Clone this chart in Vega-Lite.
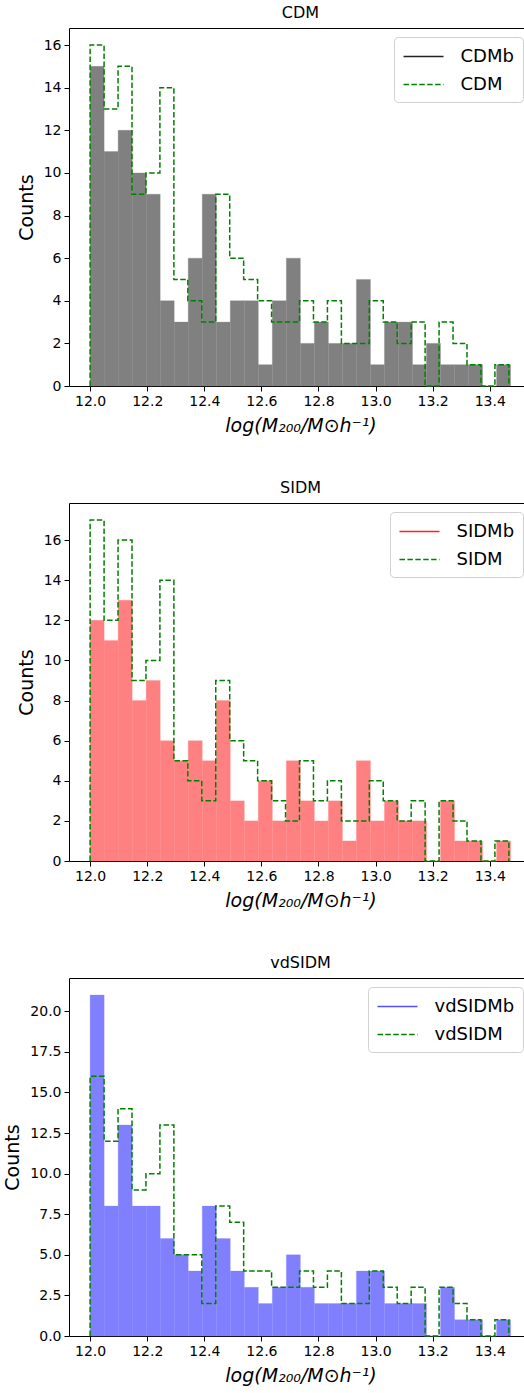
{
  "$schema": "https://vega.github.io/schema/vega-lite/v6.json",
  "padding": {"left": 3, "top": 4, "right": 0, "bottom": 0},
  "spacing": 43,
  "config": {
    "font": "DejaVu Sans",
    "view": {"stroke": "black", "strokeWidth": 1},
    "axis": {"grid": false, "domain": false, "tickColor": "black", "tickSize": 5, "tickWidth": 1, "labelColor": "black", "labelFontSize": 14, "labelFont": "DejaVu Sans", "titleFont": "DejaVu Sans", "titleFontSize": 19, "titleFontWeight": "normal", "titleColor": "black", "labelPadding": 3},
    "axisY": {"titlePadding": 7},
    "axisX": {"titlePadding": 8, "titleFontStyle": "italic"},
    "title": {"fontSize": 16, "fontWeight": "normal", "color": "black", "font": "DejaVu Sans", "frame": "group", "anchor": "middle", "offset": 7},
    "legend": {"orient": "top-right", "offset": 9, "padding": 8.5, "strokeColor": "#d0d0d0", "fillColor": "white", "cornerRadius": 4, "labelFontSize": 18, "labelColor": "black", "labelFont": "DejaVu Sans", "symbolType": "M-2,0H2", "symbolSize": 400, "symbolStrokeWidth": 1.5, "symbolOffset": 10, "labelOffset": 26, "rowPadding": 8}
  },
  "resolve": {"scale": {"color": "independent", "strokeDash": "independent"}, "legend": {"color": "independent", "strokeDash": "independent"}},
  "datasets": {
    "cdmb": [
      {"x":12.0,"x2":12.0491,"n":15},{"x":12.0491,"x2":12.0982,"n":11},{"x":12.0982,"x2":12.1473,"n":12},{"x":12.1473,"x2":12.1964,"n":10},{"x":12.1964,"x2":12.2455,"n":9},{"x":12.2455,"x2":12.2946,"n":4},{"x":12.2946,"x2":12.3437,"n":3},{"x":12.3437,"x2":12.3928,"n":6},{"x":12.3928,"x2":12.4419,"n":9},{"x":12.4419,"x2":12.491,"n":3},{"x":12.491,"x2":12.5401,"n":4},{"x":12.5401,"x2":12.5892,"n":4},{"x":12.5892,"x2":12.6383,"n":1},{"x":12.6383,"x2":12.6874,"n":4},{"x":12.6874,"x2":12.7365,"n":6},{"x":12.7365,"x2":12.7856,"n":2},{"x":12.7856,"x2":12.8347,"n":3},{"x":12.8347,"x2":12.8838,"n":2},{"x":12.8838,"x2":12.9329,"n":2},{"x":12.9329,"x2":12.982,"n":5},{"x":12.982,"x2":13.0311,"n":1},{"x":13.0311,"x2":13.0802,"n":3},{"x":13.0802,"x2":13.1293,"n":3},{"x":13.1293,"x2":13.1784,"n":1},{"x":13.1784,"x2":13.2275,"n":2},{"x":13.2275,"x2":13.2766,"n":1},{"x":13.2766,"x2":13.3257,"n":1},{"x":13.3257,"x2":13.3748,"n":1},{"x":13.3748,"x2":13.4239,"n":0},{"x":13.4239,"x2":13.473,"n":1}
    ],
    "cdm": [
      {"i":0,"x":12.0,"n":0,"s":"CDM"},{"i":1,"x":12.0,"n":16,"s":"CDM"},{"i":2,"x":12.0489,"n":13,"s":"CDM"},{"i":3,"x":12.0978,"n":15,"s":"CDM"},{"i":4,"x":12.1467,"n":9,"s":"CDM"},{"i":5,"x":12.1956,"n":10,"s":"CDM"},{"i":6,"x":12.2445,"n":14,"s":"CDM"},{"i":7,"x":12.2934,"n":5,"s":"CDM"},{"i":8,"x":12.3423,"n":4,"s":"CDM"},{"i":9,"x":12.3912,"n":3,"s":"CDM"},{"i":10,"x":12.4401,"n":9,"s":"CDM"},{"i":11,"x":12.489,"n":6,"s":"CDM"},{"i":12,"x":12.5379,"n":5,"s":"CDM"},{"i":13,"x":12.5868,"n":4,"s":"CDM"},{"i":14,"x":12.6357,"n":3,"s":"CDM"},{"i":15,"x":12.6846,"n":3,"s":"CDM"},{"i":16,"x":12.7335,"n":4,"s":"CDM"},{"i":17,"x":12.7824,"n":3,"s":"CDM"},{"i":18,"x":12.8313,"n":4,"s":"CDM"},{"i":19,"x":12.8802,"n":2,"s":"CDM"},{"i":20,"x":12.9291,"n":2,"s":"CDM"},{"i":21,"x":12.978,"n":4,"s":"CDM"},{"i":22,"x":13.0269,"n":3,"s":"CDM"},{"i":23,"x":13.0758,"n":2,"s":"CDM"},{"i":24,"x":13.1247,"n":3,"s":"CDM"},{"i":25,"x":13.1736,"n":0,"s":"CDM"},{"i":26,"x":13.2225,"n":3,"s":"CDM"},{"i":27,"x":13.2714,"n":2,"s":"CDM"},{"i":28,"x":13.3203,"n":1,"s":"CDM"},{"i":29,"x":13.3692,"n":0,"s":"CDM"},{"i":30,"x":13.4181,"n":1,"s":"CDM"},{"i":31,"x":13.467,"n":0,"s":"CDM"}
    ],
    "sidmb": [
      {"x":12.0,"x2":12.0491,"n":12},{"x":12.0491,"x2":12.0982,"n":11},{"x":12.0982,"x2":12.1473,"n":13},{"x":12.1473,"x2":12.1964,"n":8},{"x":12.1964,"x2":12.2455,"n":9},{"x":12.2455,"x2":12.2946,"n":6},{"x":12.2946,"x2":12.3437,"n":5},{"x":12.3437,"x2":12.3928,"n":6},{"x":12.3928,"x2":12.4419,"n":5},{"x":12.4419,"x2":12.491,"n":8},{"x":12.491,"x2":12.5401,"n":3},{"x":12.5401,"x2":12.5892,"n":2},{"x":12.5892,"x2":12.6383,"n":4},{"x":12.6383,"x2":12.6874,"n":2},{"x":12.6874,"x2":12.7365,"n":5},{"x":12.7365,"x2":12.7856,"n":3},{"x":12.7856,"x2":12.8347,"n":2},{"x":12.8347,"x2":12.8838,"n":3},{"x":12.8838,"x2":12.9329,"n":1},{"x":12.9329,"x2":12.982,"n":5},{"x":12.982,"x2":13.0311,"n":2},{"x":13.0311,"x2":13.0802,"n":3},{"x":13.0802,"x2":13.1293,"n":2},{"x":13.1293,"x2":13.1784,"n":2},{"x":13.1784,"x2":13.2275,"n":0},{"x":13.2275,"x2":13.2766,"n":3},{"x":13.2766,"x2":13.3257,"n":1},{"x":13.3257,"x2":13.3748,"n":1},{"x":13.3748,"x2":13.4239,"n":0},{"x":13.4239,"x2":13.473,"n":1}
    ],
    "sidm": [
      {"i":0,"x":12.0,"n":0,"s":"SIDM"},{"i":1,"x":12.0,"n":17,"s":"SIDM"},{"i":2,"x":12.0489,"n":12,"s":"SIDM"},{"i":3,"x":12.0978,"n":16,"s":"SIDM"},{"i":4,"x":12.1467,"n":9,"s":"SIDM"},{"i":5,"x":12.1956,"n":10,"s":"SIDM"},{"i":6,"x":12.2445,"n":14,"s":"SIDM"},{"i":7,"x":12.2934,"n":5,"s":"SIDM"},{"i":8,"x":12.3423,"n":4,"s":"SIDM"},{"i":9,"x":12.3912,"n":3,"s":"SIDM"},{"i":10,"x":12.4401,"n":9,"s":"SIDM"},{"i":11,"x":12.489,"n":6,"s":"SIDM"},{"i":12,"x":12.5379,"n":5,"s":"SIDM"},{"i":13,"x":12.5868,"n":4,"s":"SIDM"},{"i":14,"x":12.6357,"n":3,"s":"SIDM"},{"i":15,"x":12.6846,"n":2,"s":"SIDM"},{"i":16,"x":12.7335,"n":5,"s":"SIDM"},{"i":17,"x":12.7824,"n":3,"s":"SIDM"},{"i":18,"x":12.8313,"n":4,"s":"SIDM"},{"i":19,"x":12.8802,"n":2,"s":"SIDM"},{"i":20,"x":12.9291,"n":2,"s":"SIDM"},{"i":21,"x":12.978,"n":4,"s":"SIDM"},{"i":22,"x":13.0269,"n":3,"s":"SIDM"},{"i":23,"x":13.0758,"n":2,"s":"SIDM"},{"i":24,"x":13.1247,"n":3,"s":"SIDM"},{"i":25,"x":13.1736,"n":0,"s":"SIDM"},{"i":26,"x":13.2225,"n":3,"s":"SIDM"},{"i":27,"x":13.2714,"n":2,"s":"SIDM"},{"i":28,"x":13.3203,"n":1,"s":"SIDM"},{"i":29,"x":13.3692,"n":0,"s":"SIDM"},{"i":30,"x":13.4181,"n":1,"s":"SIDM"},{"i":31,"x":13.467,"n":0,"s":"SIDM"}
    ],
    "vdb": [
      {"x":12.0,"x2":12.0491,"n":21},{"x":12.0491,"x2":12.0982,"n":8},{"x":12.0982,"x2":12.1473,"n":13},{"x":12.1473,"x2":12.1964,"n":8},{"x":12.1964,"x2":12.2455,"n":8},{"x":12.2455,"x2":12.2946,"n":6},{"x":12.2946,"x2":12.3437,"n":5},{"x":12.3437,"x2":12.3928,"n":4},{"x":12.3928,"x2":12.4419,"n":8},{"x":12.4419,"x2":12.491,"n":6},{"x":12.491,"x2":12.5401,"n":4},{"x":12.5401,"x2":12.5892,"n":3},{"x":12.5892,"x2":12.6383,"n":2},{"x":12.6383,"x2":12.6874,"n":3},{"x":12.6874,"x2":12.7365,"n":5},{"x":12.7365,"x2":12.7856,"n":3},{"x":12.7856,"x2":12.8347,"n":2},{"x":12.8347,"x2":12.8838,"n":2},{"x":12.8838,"x2":12.9329,"n":2},{"x":12.9329,"x2":12.982,"n":4},{"x":12.982,"x2":13.0311,"n":4},{"x":13.0311,"x2":13.0802,"n":2},{"x":13.0802,"x2":13.1293,"n":2},{"x":13.1293,"x2":13.1784,"n":2},{"x":13.1784,"x2":13.2275,"n":0},{"x":13.2275,"x2":13.2766,"n":3},{"x":13.2766,"x2":13.3257,"n":1},{"x":13.3257,"x2":13.3748,"n":1},{"x":13.3748,"x2":13.4239,"n":0},{"x":13.4239,"x2":13.473,"n":1}
    ],
    "vd": [
      {"i":0,"x":12.0,"n":0,"s":"vdSIDM"},{"i":1,"x":12.0,"n":16,"s":"vdSIDM"},{"i":2,"x":12.0489,"n":12,"s":"vdSIDM"},{"i":3,"x":12.0978,"n":14,"s":"vdSIDM"},{"i":4,"x":12.1467,"n":9,"s":"vdSIDM"},{"i":5,"x":12.1956,"n":10,"s":"vdSIDM"},{"i":6,"x":12.2445,"n":13,"s":"vdSIDM"},{"i":7,"x":12.2934,"n":5,"s":"vdSIDM"},{"i":8,"x":12.3423,"n":5,"s":"vdSIDM"},{"i":9,"x":12.3912,"n":2,"s":"vdSIDM"},{"i":10,"x":12.4401,"n":8,"s":"vdSIDM"},{"i":11,"x":12.489,"n":7,"s":"vdSIDM"},{"i":12,"x":12.5379,"n":4,"s":"vdSIDM"},{"i":13,"x":12.5868,"n":4,"s":"vdSIDM"},{"i":14,"x":12.6357,"n":3,"s":"vdSIDM"},{"i":15,"x":12.6846,"n":3,"s":"vdSIDM"},{"i":16,"x":12.7335,"n":4,"s":"vdSIDM"},{"i":17,"x":12.7824,"n":3,"s":"vdSIDM"},{"i":18,"x":12.8313,"n":4,"s":"vdSIDM"},{"i":19,"x":12.8802,"n":2,"s":"vdSIDM"},{"i":20,"x":12.9291,"n":2,"s":"vdSIDM"},{"i":21,"x":12.978,"n":4,"s":"vdSIDM"},{"i":22,"x":13.0269,"n":3,"s":"vdSIDM"},{"i":23,"x":13.0758,"n":2,"s":"vdSIDM"},{"i":24,"x":13.1247,"n":3,"s":"vdSIDM"},{"i":25,"x":13.1736,"n":0,"s":"vdSIDM"},{"i":26,"x":13.2225,"n":3,"s":"vdSIDM"},{"i":27,"x":13.2714,"n":2,"s":"vdSIDM"},{"i":28,"x":13.3203,"n":1,"s":"vdSIDM"},{"i":29,"x":13.3692,"n":0,"s":"vdSIDM"},{"i":30,"x":13.4181,"n":1,"s":"vdSIDM"},{"i":31,"x":13.467,"n":0,"s":"vdSIDM"}
    ]
  },
  "vconcat": [
    {
      "title": "CDM",
      "width": 463, "height": 358,
      "encoding": {
        "x": {"field": "x", "type": "quantitative", "title": "log(M₂₀₀/M⊙h⁻¹)", "scale": {"domain": [11.926, 13.548], "nice": false, "zero": false}, "axis": {"values": [12.0,12.2,12.4,12.6,12.8,13.0,13.2,13.4], "format": ".1f"}},
        "y": {"field": "n", "type": "quantitative", "title": "Counts", "scale": {"domain": [0, 16.8], "nice": false}, "axis": {"values": [0,2,4,6,8,10,12,14,16]}}
      },
      "layer": [
        {"data": {"name": "cdmb"}, "mark": {"type": "rect", "color": "#808080", "stroke": "#808080", "strokeWidth": 0.3}, "encoding": {"x2": {"field": "x2"}, "y2": {"datum": 0}}},
        {"data": {"name": "cdm"}, "mark": {"type": "line", "interpolate": "step-after", "strokeWidth": 1.5},
         "encoding": {"order": {"field": "i", "type": "quantitative"},
           "color": {"field": "s", "type": "nominal", "scale": {"domain": ["CDMb", "CDM"], "range": ["#222222", "#008000"]}, "legend": {"title": null}},
           "strokeDash": {"field": "s", "type": "nominal", "scale": {"domain": ["CDMb", "CDM"], "range": [[1, 0], [5.5, 2.4]]}, "legend": {"title": null}}}}
      ]
    },
    {
      "title": "SIDM",
      "width": 463, "height": 358,
      "encoding": {
        "x": {"field": "x", "type": "quantitative", "title": "log(M₂₀₀/M⊙h⁻¹)", "scale": {"domain": [11.926, 13.548], "nice": false, "zero": false}, "axis": {"values": [12.0,12.2,12.4,12.6,12.8,13.0,13.2,13.4], "format": ".1f"}},
        "y": {"field": "n", "type": "quantitative", "title": "Counts", "scale": {"domain": [0, 17.85], "nice": false}, "axis": {"values": [0,2,4,6,8,10,12,14,16]}}
      },
      "layer": [
        {"data": {"name": "sidmb"}, "mark": {"type": "rect", "color": "#ff8080", "stroke": "#ff8080", "strokeWidth": 0.3}, "encoding": {"x2": {"field": "x2"}, "y2": {"datum": 0}}},
        {"data": {"name": "sidm"}, "mark": {"type": "line", "interpolate": "step-after", "strokeWidth": 1.5},
         "encoding": {"order": {"field": "i", "type": "quantitative"},
           "color": {"field": "s", "type": "nominal", "scale": {"domain": ["SIDMb", "SIDM"], "range": ["#ff2020", "#008000"]}, "legend": {"title": null}},
           "strokeDash": {"field": "s", "type": "nominal", "scale": {"domain": ["SIDMb", "SIDM"], "range": [[1, 0], [5.5, 2.4]]}, "legend": {"title": null}}}}
      ]
    },
    {
      "title": "vdSIDM",
      "width": 463, "height": 358,
      "encoding": {
        "x": {"field": "x", "type": "quantitative", "title": "log(M₂₀₀/M⊙h⁻¹)", "scale": {"domain": [11.926, 13.548], "nice": false, "zero": false}, "axis": {"values": [12.0,12.2,12.4,12.6,12.8,13.0,13.2,13.4], "format": ".1f"}},
        "y": {"field": "n", "type": "quantitative", "title": "Counts", "scale": {"domain": [0, 22.05], "nice": false}, "axis": {"values": [0,2.5,5,7.5,10,12.5,15,17.5,20], "format": ".1f"}}
      },
      "layer": [
        {"data": {"name": "vdb"}, "mark": {"type": "rect", "color": "#8080ff", "stroke": "#8080ff", "strokeWidth": 0.3}, "encoding": {"x2": {"field": "x2"}, "y2": {"datum": 0}}},
        {"data": {"name": "vd"}, "mark": {"type": "line", "interpolate": "step-after", "strokeWidth": 1.5},
         "encoding": {"order": {"field": "i", "type": "quantitative"},
           "color": {"field": "s", "type": "nominal", "scale": {"domain": ["vdSIDMb", "vdSIDM"], "range": ["#5050ff", "#008000"]}, "legend": {"title": null}},
           "strokeDash": {"field": "s", "type": "nominal", "scale": {"domain": ["vdSIDMb", "vdSIDM"], "range": [[1, 0], [5.5, 2.4]]}, "legend": {"title": null}}}}
      ]
    }
  ]
}
